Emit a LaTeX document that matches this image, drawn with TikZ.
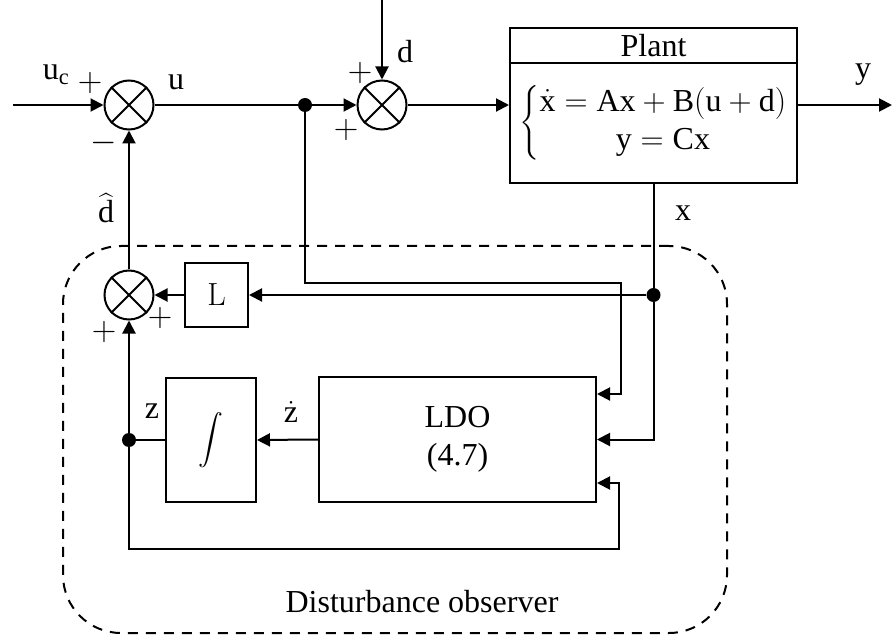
\RequirePackage{fix-cm}
\documentclass[tikz,border=0pt]{standalone}
\usepackage{amsmath}
\usepackage{fontspec}
\setmainfont{Liberation Serif}
\usetikzlibrary{arrows.meta}
\tikzset{
  sig/.style={line width=2pt},
  arr/.style={line width=2pt, -{Triangle[length=13pt,width=13pt]}},
  blk/.style={draw, line width=2pt, inner sep=0pt},
  sumj/.style={draw, circle, line width=2pt, minimum size=49pt, inner sep=0pt},
  dotn/.style={circle, fill, inner sep=0pt, minimum size=14pt},
  lbl/.style={inner sep=0pt},
  sgn/.style={inner sep=0pt, font=\fontsize{34}{38}\selectfont},
  dobox/.style={draw, line width=2pt, dash pattern=on 10pt off 8pt, rounded corners=58pt, inner sep=0pt},
}
\begin{document}
\begin{tikzpicture}[x=1pt,y=-1pt,every node/.style={font=\fontsize{32}{38}\selectfont}]
\useasboundingbox (0,0) rectangle (892,639);
% disturbance observer frame
\node[dobox, minimum width=664pt, minimum height=387pt] (dob) at (395,439.5) {};
\node[lbl] (dobl) at (422,602) {Disturbance observer};
% junctions
\node[sumj] (s1) at (129,105) {};
\node[sumj] (s2) at (382,105) {};
\node[sumj] (s3) at (129,295) {};
\foreach \s in {s1,s2,s3}
  \draw[sig] (\s.45) -- (\s.225) (\s.135) -- (\s.315);
% blocks
\node[blk, minimum width=287pt, minimum height=35pt] (ptitle) at (653.5,45.5) {Plant};
\node[blk, minimum width=287pt, minimum height=120pt] (pbody) at (653.5,123)
  {$\left\{\begin{array}{@{}c@{}}\dot{\mathrm{x}} = \mathrm{Ax} + \mathrm{B}(\mathrm{u} + \mathrm{d})\\ \mathrm{y} = \mathrm{Cx}\end{array}\right.$};
\node[blk, minimum width=63pt, minimum height=64pt] (Lb) at (216.5,295) {{\fontfamily{lmr}\selectfont L}};
\node[blk, minimum width=90pt, minimum height=124pt] (integ) at (211,440) {\fontsize{26}{28}\selectfont$\displaystyle\int$};
\node[blk, minimum width=277pt, minimum height=125pt, align=center] (ldo) at (457.5,439.5) {LDO\\(4.7)};
% dots
\node[dotn] (d1) at (305,105) {};
\node[dotn] (d2) at (653.5,295) {};
\node[dotn] (d3) at (129,440) {};
% coordinates
\coordinate (uin) at (13,105);
\coordinate (dtop) at (382,0);
\coordinate (yout) at (892,105);
\coordinate (c1) at (621,283);
\coordinate (c2) at (621,394);
\coordinate (b1) at (619,549);
\coordinate (b2) at (619,483);
% connectors
\draw[arr] (uin) -- (s1.west);
\draw[sig] (s1.east) -- (d1);
\draw[arr] (d1) -- (s2.west);
\draw[arr] (dtop) -- (s2.north);
\draw[arr] (s2.east) -- (s2.east -| pbody.west);
\draw[arr] (yout -| pbody.east) -- (yout);
\draw[sig] (pbody.south -| d2) -- (d2);
\draw[arr] (d2) |- (ldo.east);
\draw[arr] (d2) -- (Lb.east);
\draw[arr] (Lb.west) -- (s3.east);
\draw[arr] (s3.north) -- (s1.south);
\draw[arr] (d1) |- (c1) -- (c2) -- (c2 -| ldo.east);
\draw[arr] (ldo.west) -- (integ.east);
\draw[sig] (integ.west) -- (d3);
\draw[arr] (d3) -- (s3.south);
\draw[arr] (d3) |- (b1) -- (b2) -- (b2 -| ldo.east);
% labels
\node[lbl] (luc) at (56,75) {$\mathrm{u_c}$};
\node[sgn] (lp1) at (90,83) {$+$};
\node[sgn] (lm1) at (104,143) {$-$};
\node[lbl] (lu) at (176,82) {u};
\node[lbl] (ld) at (405,52) {d};
\node[sgn] (lp2) at (360,73) {$+$};
\node[sgn] (lp3) at (346,130) {$+$};
\node[lbl] (ly) at (863,75) {y};
\node[lbl] (lx) at (683,213) {x};
\node[lbl] (ldh) at (106,208) {$\widehat{\mathrm{d}}$};
\node[sgn] (lp4) at (160,318) {$+$};
\node[sgn] (lp5) at (104,332) {$+$};
\node[lbl] (lz) at (152,411) {z};
\node[lbl] (lzd) at (291,412) {$\dot{\mathrm{z}}$};
\end{tikzpicture}
\end{document}
